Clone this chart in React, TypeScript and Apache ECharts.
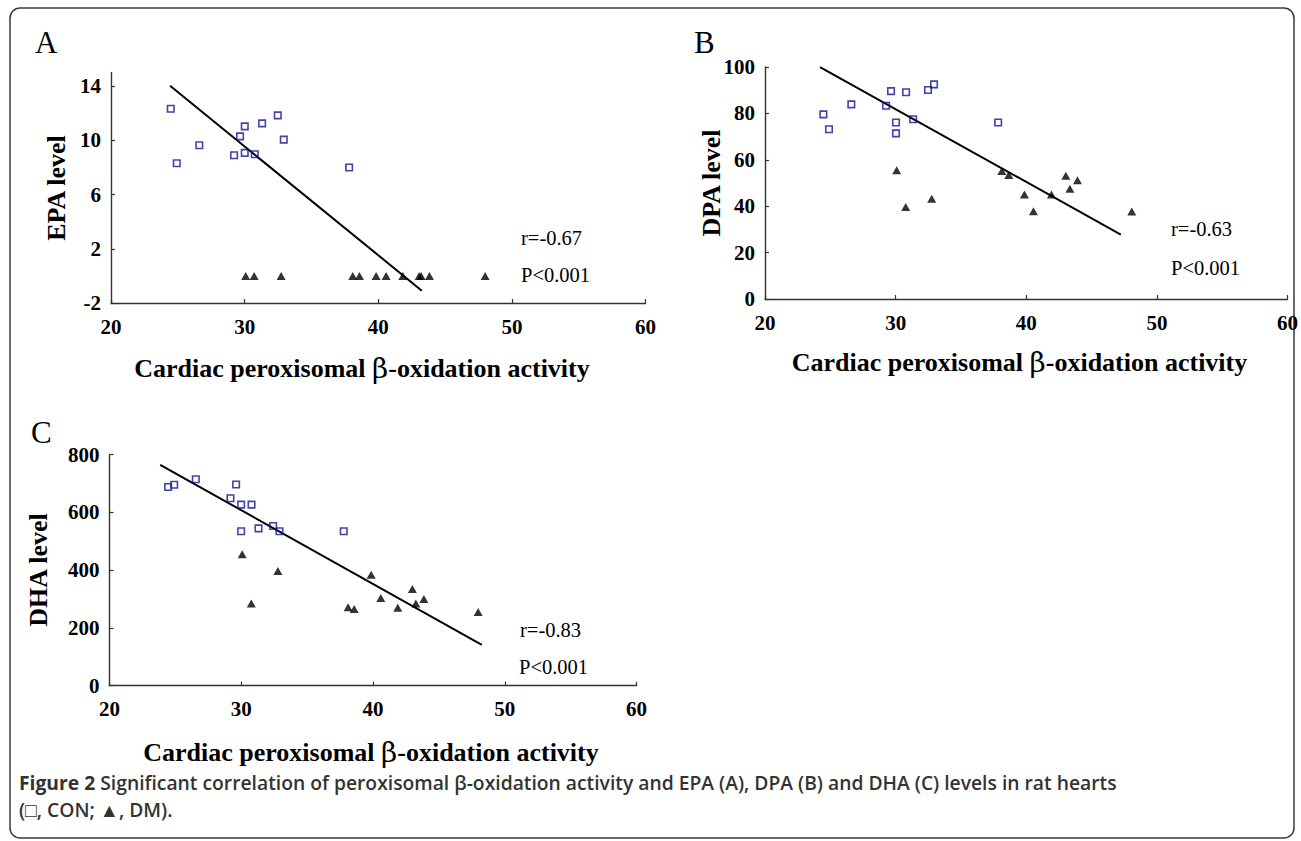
import React, { useEffect, useRef } from "react";
import * as echarts from "echarts";

// ---- Data ----
const xTicks = [20, 30, 40, 50, 60];
const epaTicks = [-2, 2, 6, 10, 14];
const dpaTicks = [0, 20, 40, 60, 80, 100];
const dhaTicks = [0, 200, 400, 600, 800];

// Panel A: EPA
const epaCon: [number, number][] = [
  [24.47, 12.33], [24.92, 8.31], [26.61, 9.63], [29.21, 8.9], [29.66, 10.29], [30.01, 11.03],
  [30.01, 9.07], [30.76, 8.97], [31.31, 11.25], [32.48, 11.84], [32.93, 10.05], [37.82, 7.99],
];
const epaDm: [number, number][] = [
  [30.08, 0], [30.71, 0], [32.73, 0], [38.09, 0], [38.59, 0], [39.84, 0],
  [40.59, 0], [41.84, 0], [43.06, 0], [43.21, 0], [43.83, 0], [48.0, 0],
];
const epaFit: [number, number][] = [[24.42, 14.02], [43.26, -1.09]];

// Panel B: DPA
const dpaCon: [number, number][] = [
  [24.47, 79.6], [24.9, 73.2], [26.61, 83.9], [29.27, 83.3], [29.65, 89.6], [30.03, 76.1],
  [30.03, 71.4], [30.8, 89.1], [31.34, 77.5], [32.48, 90.1], [32.94, 92.5], [37.85, 76.1],
];
const dpaDm: [number, number][] = [
  [30.08, 55.5], [30.77, 39.7], [32.76, 43.2], [38.13, 55.2], [38.66, 53.4], [39.86, 45.0],
  [40.55, 37.8], [41.93, 45.0], [43.03, 53.1], [43.34, 47.5], [43.92, 51.2], [48.08, 37.7],
];
const dpaFit: [number, number][] = [[24.21, 99.9], [47.24, 27.8]];

// Panel C: DHA
const dhaCon: [number, number][] = [
  [24.45, 688], [24.91, 696], [26.55, 715], [29.61, 697], [29.18, 649], [29.99, 627],
  [30.78, 627], [29.99, 535], [31.31, 545], [32.42, 553], [32.9, 535], [37.78, 535],
];
const dhaDm: [number, number][] = [
  [30.07, 455], [30.76, 285], [32.78, 397], [38.11, 272], [38.57, 266], [39.86, 384],
  [40.59, 304], [41.88, 270], [42.99, 335], [43.25, 285], [43.86, 300], [47.98, 255],
];
const dhaFit: [number, number][] = [[23.85, 765], [48.26, 141]];

const panelLabels = ["A", "B", "C"];
const yTitles = ["EPA level", "DPA level", "DHA level"];
const rTexts = ["r=-0.67", "r=-0.63", "r=-0.83"];
const pText = "P<0.001";
const captionMain = "Significant correlation of peroxisomal β-oxidation activity and EPA (A), DPA (B) and DHA (C) levels in rat hearts";
const captionLine2 = "(□, CON; ▲, DM).";

const SERIF = "'Liberation Serif', 'Times New Roman', serif";
const AXIS_COLOR = "#333";
const BLUE = "#14148c";
const CAP_FONT = "'Open Sans', sans-serif";

export default function App() {
  const ref = useRef<HTMLDivElement>(null);
  useEffect(() => {
    if (!ref.current) return;
    const chart = echarts.init(ref.current, undefined, { renderer: "svg" });

    const grids = [
      { left: 111, top: 72.5, width: 534.5, height: 230.5 },
      { left: 765, top: 67, width: 523, height: 232 },
      { left: 109.5, top: 454.7, width: 527, height: 231 },
    ];
    const axisCommon = {
      axisLine: { show: true, onZero: false, lineStyle: { color: AXIS_COLOR, width: 1.4 } },
      axisTick: { show: true, inside: true, length: 4, lineStyle: { color: AXIS_COLOR, width: 1.2 } },
      splitLine: { show: false },
      axisLabel: { fontFamily: SERIF, fontWeight: "bold" as const, fontSize: 21, color: "#000" },
    };
    const xAxes = [0, 1, 2].map((i) => ({
      type: "value" as const,
      gridIndex: i,
      min: xTicks[0],
      max: xTicks[xTicks.length - 1],
      interval: 10,
      ...axisCommon,
      axisLabel: { ...axisCommon.axisLabel, margin: 13 },
    }));
    const yAxes = [
      {
        type: "value" as const, gridIndex: 0, min: -2, max: 15, interval: 4,
        ...axisCommon,
        axisTick: { ...axisCommon.axisTick, customValues: epaTicks },
        axisLabel: { ...axisCommon.axisLabel, margin: 10, customValues: epaTicks },
      },
      {
        type: "value" as const, gridIndex: 1, min: dpaTicks[0], max: dpaTicks[dpaTicks.length - 1], interval: 20,
        ...axisCommon,
        axisLabel: { ...axisCommon.axisLabel, margin: 10 },
      },
      {
        type: "value" as const, gridIndex: 2, min: dhaTicks[0], max: dhaTicks[dhaTicks.length - 1], interval: 200,
        ...axisCommon,
        axisLabel: { ...axisCommon.axisLabel, margin: 10 },
      },
    ];

    const con = (i: number, data: [number, number][]) => ({
      type: "scatter" as const, xAxisIndex: i, yAxisIndex: i, data,
      symbol: "rect", symbolSize: 6.5,
      itemStyle: { color: "rgba(0,0,0,0)", borderColor: BLUE, borderWidth: 1.6 },
      z: 3,
    });
    const dm = (i: number, data: [number, number][]) => ({
      type: "scatter" as const, xAxisIndex: i, yAxisIndex: i, data,
      symbol: "triangle", symbolSize: [9, 8],
      itemStyle: { color: "#000" },
      z: 3,
    });
    const fit = (i: number, data: [number, number][]) => ({
      type: "line" as const, xAxisIndex: i, yAxisIndex: i, data,
      symbol: "none", lineStyle: { color: "#000", width: 2 }, z: 2,
    });

    const text = (t: string, x: number, y: number, font: string, extra: any = {}) => ({
      type: "text" as const, x, y,
      style: { text: t, font, fill: "#000", textAlign: "left", textVerticalAlign: "middle", ...extra },
    });

    const xTitleRich = {
      a: { fontFamily: SERIF, fontWeight: "bold", fontSize: 26, fill: "#000", color: "#000" },
      b: { fontFamily: "'DejaVu Serif', serif", fontWeight: "normal", fontSize: 28, fill: "#000", color: "#000" },
    };
    const xTitle = (cx: number, cy: number) => ({
      type: "text" as const, x: cx, y: cy,
      style: {
        text: "{a|Cardiac peroxisomal }{b|β}{a|-oxidation activity}",
        rich: xTitleRich, textAlign: "center", textVerticalAlign: "middle", fill: "#000",
      },
    });
    const yTitle = (t: string, cx: number, cy: number) => ({
      type: "text" as const, x: cx, y: cy, rotation: Math.PI / 2,
      style: {
        text: t, font: `bold 26px ${SERIF}`, fill: "#000",
        textAlign: "center", textVerticalAlign: "middle",
      },
    });

    const capRich = {
      f: { fontFamily: CAP_FONT, fontWeight: "bold", fontSize: 19.3, fill: "#333", color: "#333" },
      m: { fontFamily: CAP_FONT, fontWeight: 600, fontSize: 19.3, fill: "#333", color: "#333" },
    };

    const graphic: any[] = [
      {
        type: "rect", shape: { x: 10, y: 8, width: 1284, height: 830, r: 10 },
        style: { fill: "none", stroke: "#3a3a3a", lineWidth: 1.5 }, z: -1,
      },
      text(panelLabels[0], 35, 42, `31px ${SERIF}`),
      text(panelLabels[1], 694, 42, `31px ${SERIF}`),
      text(panelLabels[2], 31, 432, `31px ${SERIF}`),
      yTitle(yTitles[0], 56, 188),
      yTitle(yTitles[1], 711, 183),
      yTitle(yTitles[2], 38, 570),
      xTitle(362, 368),
      xTitle(1019.5, 362),
      xTitle(371, 752),
      text(rTexts[0], 521, 238, `20.5px ${SERIF}`),
      text(pText, 521, 275, `20.5px ${SERIF}`),
      text(rTexts[1], 1171, 229, `20.5px ${SERIF}`),
      text(pText, 1171, 268, `20.5px ${SERIF}`),
      text(rTexts[2], 520, 630, `20.5px ${SERIF}`),
      text(pText, 519, 667, `20.5px ${SERIF}`),
      {
        type: "text", x: 19, y: 782.5,
        style: {
          text: "{f|Figure 2 }{m|" + captionMain + "}",
          textVerticalAlign: "middle",
          rich: capRich,
        },
      },
      {
        type: "text", x: 19, y: 809.5,
        style: {
          text: captionLine2, font: `600 19.3px ${CAP_FONT}`, fill: "#333",
          textVerticalAlign: "middle",
        },
      },
    ];

    chart.setOption({
      animation: false,
      backgroundColor: "#fff",
      grid: grids,
      xAxis: xAxes,
      yAxis: yAxes,
      series: [
        con(0, epaCon), dm(0, epaDm), fit(0, epaFit),
        con(1, dpaCon), dm(1, dpaDm), fit(1, dpaFit),
        con(2, dhaCon), dm(2, dhaDm), fit(2, dhaFit),
      ],
      graphic,
    });
    return () => chart.dispose();
  }, []);
  return (
    <div
      ref={ref}
      style={{ position: "fixed", left: 0, top: 0, width: 1301, height: 841 }}
    />
  );
}
